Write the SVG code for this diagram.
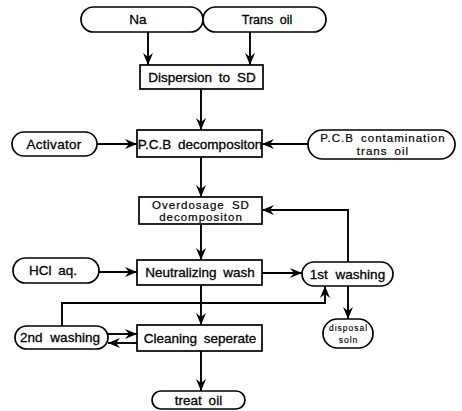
<svg xmlns="http://www.w3.org/2000/svg" width="462" height="411" viewBox="0 0 462 411">
<style>
.n{fill:#fff;stroke:#000;stroke-width:1.7}
.t{font-family:"Liberation Sans",Arial,sans-serif;font-size:13.5px;fill:#000;stroke:#000;stroke-width:0.3;text-anchor:middle;word-spacing:3px}
.s{font-size:11.5px;letter-spacing:1px;stroke-width:0.2}
.xs{font-size:8.5px;letter-spacing:1px;word-spacing:0;stroke-width:0.15}
.c{fill:none;stroke:#000;stroke-width:1.9;marker-end:url(#a)}
</style>
<defs>
<marker id="a" viewBox="0 0 12 10" refX="12" refY="5" markerWidth="12" markerHeight="10" markerUnits="userSpaceOnUse" orient="auto">
<path d="M0,0 L12,5 L0,10 L4,5 z" fill="#000"/>
</marker>
</defs>
<rect width="462" height="411" fill="#fff"/>
<g id="connectors">
<path class="c" d="M148,32 V65"/>
<path class="c" d="M250,32 V65"/>
<path class="c" d="M201,89 V130"/>
<path class="c" d="M97,144 H137"/>
<path class="c" d="M308,144 H262"/>
<path class="c" d="M201,157 V197"/>
<path class="c" d="M348,262 V210 H262"/>
<path class="c" d="M201,224 V260"/>
<path class="c" d="M99,272 H137"/>
<path class="c" d="M262,273 H302"/>
<path class="c" d="M348,286 V319"/>
<path class="c" d="M201,285 V325"/>
<path class="c" d="M62,326 V303 H325 V286"/>
<path class="c" d="M108,334 H137"/>
<path class="c" d="M137,343 H108"/>
<path class="c" d="M201,351 V391"/>
</g>
<g id="na"><rect class="n" x="81" y="7" width="122" height="25" rx="12.5"/><text class="t" x="138" y="24">Na</text></g>
<g id="transoil"><rect class="n" x="203" y="7" width="123" height="25" rx="12.5"/><text class="t" x="267" y="24" style="font-size:12.5px">Trans oil</text></g>
<g id="dispersion"><rect class="n" x="140" y="65" width="123" height="24"/><text class="t" x="202" y="82">Dispersion to SD</text></g>
<g id="activator"><rect class="n" x="12" y="132" width="85" height="24" rx="12"/><text class="t" x="54" y="148.5" style="letter-spacing:0.3px">Activator</text></g>
<g id="pcb"><rect class="n" x="137" y="130" width="125" height="27"/><text class="t" x="200" y="148.5">P.C.B decompositon</text></g>
<g id="contamination"><rect class="n" x="308" y="130" width="147" height="29" rx="14.5"/><text class="t s" x="383" y="142">P.C.B contamination</text><text class="t s" x="383" y="155">trans oil</text></g>
<g id="overdosage"><rect class="n" x="139" y="197" width="123" height="27"/><text class="t s" x="201" y="208.5">Overdosage SD</text><text class="t s" x="201" y="220.5">decompositon</text></g>
<g id="hcl"><rect class="n" x="13" y="258" width="86" height="25" rx="12.5"/><text class="t" x="53" y="275">HCl aq.</text></g>
<g id="neutralizing"><rect class="n" x="137" y="260" width="125" height="25"/><text class="t" x="200" y="277">Neutralizing wash</text></g>
<g id="wash1"><rect class="n" x="302" y="262" width="91" height="24" rx="12"/><text class="t" x="347.5" y="278.5" style="word-spacing:4px">1st washing</text></g>
<g id="wash2"><rect class="n" x="15" y="326" width="93" height="23" rx="11.5"/><text class="t" x="60" y="342" style="word-spacing:4px">2nd washing</text></g>
<g id="cleaning"><rect class="n" x="137" y="325" width="125" height="26"/><text class="t" x="200" y="343">Cleaning seperate</text></g>
<g id="disposal"><rect class="n" x="323" y="319" width="50" height="29" rx="14.5"/><text class="t xs" x="348.5" y="331">disposal</text><text class="t xs" x="348.5" y="343">soln</text></g>
<g id="treatoil"><rect class="n" x="152" y="391" width="93" height="18" rx="9"/><text class="t" x="198.5" y="404.5">treat oil</text></g>
</svg>
